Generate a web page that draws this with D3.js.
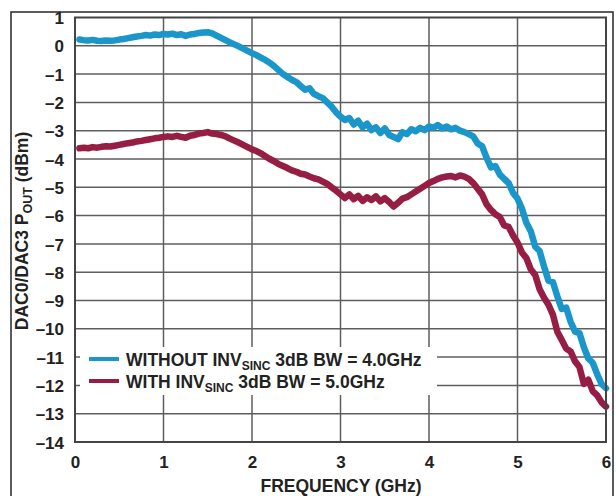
<!DOCTYPE html>
<html>
<head>
<meta charset="utf-8">
<script src="https://cdn.jsdelivr.net/npm/d3@7"></script>
<style>
    body { margin: 0; background: #fff; }
    svg { display: block; font-family: "Liberation Sans", Arial, sans-serif; font-weight: bold; }
</style>
</head>
<body>
<svg id="chart" width="616" height="496"></svg>
<script>
// frequency points (GHz), shared by both traces
const freqs = [0.05, 0.10, 0.15, 0.20, 0.25, 0.30, 0.35, 0.40, 0.45, 0.50,
    0.55, 0.60, 0.65, 0.70, 0.75, 0.80, 0.85, 0.90, 0.95, 1.00,
    1.05, 1.10, 1.15, 1.20, 1.25, 1.30, 1.35, 1.40, 1.45, 1.50,
    1.55, 1.60, 1.65, 1.70, 1.75, 1.80, 1.85, 1.90, 1.95, 2.00,
    2.05, 2.10, 2.15, 2.20, 2.25, 2.30, 2.35, 2.40, 2.45, 2.50,
    2.55, 2.60, 2.65, 2.70, 2.75, 2.80, 2.85, 2.90, 2.95, 3.00,
    3.05, 3.10, 3.15, 3.20, 3.25, 3.30, 3.35, 3.40, 3.45, 3.50,
    3.55, 3.60, 3.65, 3.70, 3.75, 3.80, 3.85, 3.90, 3.95, 4.00,
    4.05, 4.10, 4.15, 4.20, 4.25, 4.30, 4.35, 4.40, 4.45, 4.50,
    4.55, 4.60, 4.65, 4.70, 4.75, 4.80, 4.85, 4.90, 4.95, 5.00,
    5.05, 5.10, 5.15, 5.20, 5.25, 5.30, 5.35, 5.40, 5.45, 5.50,
    5.55, 5.60, 5.65, 5.70, 5.75, 5.80, 5.85, 5.90, 5.95, 6.00];

// without INV SINC (dBm)
const withoutInvSinc = [0.22, 0.20, 0.19, 0.21, 0.18, 0.17, 0.19, 0.18, 0.19, 0.22,
    0.24, 0.27, 0.30, 0.33, 0.35, 0.38, 0.36, 0.40, 0.38, 0.42,
    0.40, 0.43, 0.38, 0.41, 0.35, 0.40, 0.42, 0.45, 0.47, 0.48,
    0.44, 0.36, 0.28, 0.20, 0.12, 0.05, -0.02, -0.10, -0.18, -0.26,
    -0.33, -0.42, -0.50, -0.60, -0.72, -0.86, -1.00, -1.10, -1.20, -1.28,
    -1.42, -1.55, -1.50, -1.70, -1.78, -1.85, -2.00, -2.15, -2.35, -2.50,
    -2.62, -2.55, -2.78, -2.65, -2.88, -2.75, -2.98, -2.88, -3.08, -2.92,
    -3.15, -3.22, -3.30, -3.05, -3.12, -2.95, -3.02, -2.90, -2.98, -2.85,
    -2.90, -2.80, -2.92, -2.85, -2.95, -2.90, -3.00, -3.05, -3.12, -3.20,
    -3.45, -3.55, -3.95, -4.30, -4.25, -4.55, -4.70, -4.85, -5.20, -5.40,
    -5.75, -6.25, -6.55, -7.10, -7.25, -7.80, -8.30, -8.35, -8.85, -9.30,
    -9.25, -9.75, -10.10, -10.15, -10.65, -11.05, -11.20, -11.60, -11.95, -12.10];

// with INV SINC (dBm)
const withInvSinc = [-3.62, -3.60, -3.62, -3.58, -3.60, -3.57, -3.55, -3.56, -3.53, -3.50,
    -3.47, -3.44, -3.42, -3.38, -3.36, -3.33, -3.30, -3.27, -3.25, -3.22,
    -3.20, -3.22, -3.18, -3.22, -3.25, -3.18, -3.15, -3.10, -3.08, -3.05,
    -3.10, -3.12, -3.15, -3.20, -3.28, -3.35, -3.42, -3.50, -3.58, -3.66,
    -3.72, -3.80, -3.90, -4.00, -4.08, -4.18, -4.25, -4.32, -4.40, -4.45,
    -4.52, -4.55, -4.62, -4.68, -4.72, -4.80, -4.88, -5.00, -5.12, -5.25,
    -5.38, -5.25, -5.42, -5.30, -5.48, -5.35, -5.45, -5.32, -5.50, -5.38,
    -5.52, -5.68, -5.55, -5.40, -5.35, -5.25, -5.15, -5.05, -4.95, -4.85,
    -4.78, -4.70, -4.65, -4.62, -4.60, -4.65, -4.58, -4.62, -4.70, -4.85,
    -5.05, -5.25, -5.60, -5.80, -5.95, -6.05, -6.35, -6.40, -6.70, -6.95,
    -7.30, -7.50, -7.90, -8.10, -8.60, -8.90, -9.15, -9.50, -10.10, -10.40,
    -10.70, -10.80, -11.15, -11.35, -11.95, -11.80, -12.20, -12.35, -12.60, -12.75];

const xTicks = [0, 1, 2, 3, 4, 5, 6];
const yTicks = [1, 0, -1, -2, -3, -4, -5, -6, -7, -8, -9, -10, -11, -12, -13, -14];

const blue = '#1b96cb';
const red = '#961d44';
const ink = '#222';

const svg = d3.select('#chart');

// outer figure frame
svg.append('rect')
    .attr('x', 11).attr('y', 12)
    .attr('width', 602).attr('height', 520)
    .attr('fill', 'none')
    .attr('stroke', '#333')
    .attr('stroke-width', 1.6);

const plot = {left: 75, right: 606, top: 17.5, bottom: 442};

let x = d3.scaleLinear().domain([0, 6]).range([plot.left, plot.right]);
let y = d3.scaleLinear().domain([-14, 1]).range([plot.bottom, plot.top]);

// grid
let grid = svg.append('g').attr('stroke', '#5e5e5e').attr('stroke-width', 1.5);
grid.selectAll('line.v').data(xTicks.slice(1, -1)).enter().append('line')
    .attr('class', 'v')
    .attr('x1', d => x(d)).attr('x2', d => x(d))
    .attr('y1', plot.top).attr('y2', plot.bottom);
grid.selectAll('line.h').data(yTicks.slice(1, -1)).enter().append('line')
    .attr('class', 'h')
    .attr('x1', plot.left).attr('x2', plot.right)
    .attr('y1', d => y(d)).attr('y2', d => y(d));

// axes: labels only, domain drawn as frame below
let yAxis = svg.append('g')
    .attr('transform', `translate(${plot.left - 11},0)`)
    .call(d3.axisLeft(y).tickValues(yTicks).tickSize(0).tickFormat(d => d < 0 ? '\u2013' + Math.abs(d) : d));
yAxis.select('.domain').remove();
yAxis.selectAll('text')
    .attr('x', 0).attr('dy', '0.36em')
    .style('font-size', '17px').style('font-weight', 'bold')
    .style('font-family', '"Liberation Sans", Arial, sans-serif')
    .attr('fill', ink);

let xAxis = svg.append('g')
    .attr('transform', `translate(0,${plot.bottom})`)
    .call(d3.axisBottom(x).tickValues(xTicks).tickSize(0).tickFormat(d3.format('d')));
xAxis.select('.domain').remove();
xAxis.selectAll('text')
    .attr('y', 26).attr('dy', 0)
    .style('font-size', '17px').style('font-weight', 'bold')
    .style('font-family', '"Liberation Sans", Arial, sans-serif')
    .attr('fill', ink);

// legend background hides the grid under it
svg.append('rect')
    .attr('x', 80).attr('y', 347)
    .attr('width', 357).attr('height', 48)
    .attr('fill', '#fff');

// traces
let line = d3.line()
    .x((d, i) => x(freqs[i]))
    .y(d => y(d));

[[withoutInvSinc, blue], [withInvSinc, red]].forEach(function (s) {
    svg.append('path')
        .datum(s[0])
        .attr('d', line)
        .attr('fill', 'none')
        .attr('stroke', s[1])
        .attr('stroke-width', 6.5)
        .attr('stroke-linejoin', 'round')
        .attr('stroke-linecap', 'round');
});

// plot frame
svg.append('rect')
    .attr('x', plot.left).attr('y', plot.top)
    .attr('width', plot.right - plot.left).attr('height', plot.bottom - plot.top)
    .attr('fill', 'none')
    .attr('stroke', '#444')
    .attr('stroke-width', 2);

// legend
let legendItems = [
    {color: blue, pre: 'WITHOUT INV', post: ' 3dB BW = 4.0GHz', y: 359},
    {color: red, pre: 'WITH INV', post: ' 3dB BW = 5.0GHz', y: 381}
];
let legend = svg.append('g');
legendItems.forEach(function (d) {
    legend.append('line')
        .attr('x1', 89).attr('x2', 119)
        .attr('y1', d.y).attr('y2', d.y)
        .attr('stroke', d.color).attr('stroke-width', 4);
    let t = legend.append('text')
        .attr('x', 126).attr('y', d.y + 6.5)
        .attr('fill', ink)
        .style('font-size', '17.5px');
    t.append('tspan').text(d.pre);
    t.append('tspan').attr('dy', 4).style('font-size', '12px').text('SINC');
    t.append('tspan').attr('dy', -4).text(d.post);
});

// axis titles
svg.append('text')
    .attr('x', 341).attr('y', 491.5)
    .attr('text-anchor', 'middle')
    .attr('fill', ink)
    .style('font-size', '17.5px')
    .text('FREQUENCY (GHz)');

let yTitle = svg.append('text')
    .attr('transform', 'translate(28,231) rotate(-90)')
    .attr('text-anchor', 'middle')
    .attr('fill', ink)
    .style('font-size', '17.5px');
yTitle.append('tspan').text('DAC0/DAC3 P');
yTitle.append('tspan').attr('dy', 4).style('font-size', '12.5px').text('OUT');
yTitle.append('tspan').attr('dy', -4).text(' (dBm)');
</script>
</body>
</html>
